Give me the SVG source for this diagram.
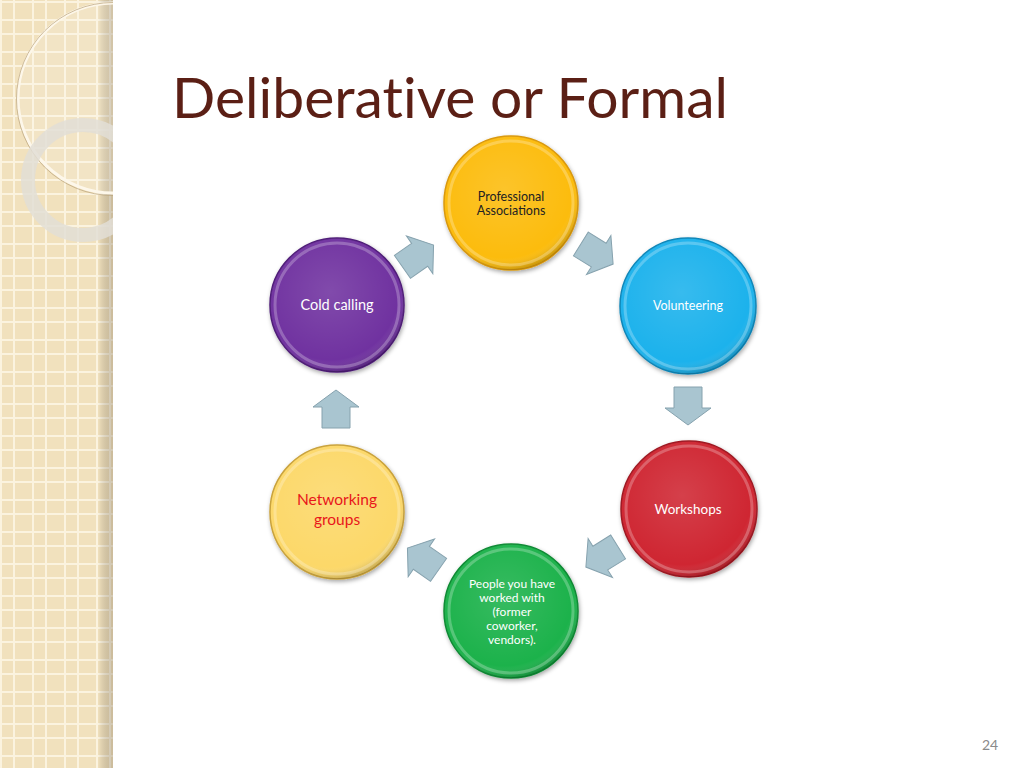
<svg xmlns="http://www.w3.org/2000/svg" width="1024" height="768" viewBox="0 0 1024 768">
<defs>
<style>
.lbl{font-family:Lato,"Open Sans","Liberation Sans",sans-serif;text-anchor:middle}
.arrow{fill:#a9c5d0;stroke:#86a2ae;stroke-width:1}
.rim{fill:none;stroke:#ffffff;stroke-opacity:0.25;stroke-width:3}
</style>
<pattern id="grid" width="32" height="32" patternUnits="userSpaceOnUse" x="0" y="1">
<rect width="32" height="32" fill="#f1e1bd"/>
<rect x="0" y="0" width="2" height="32" fill="#fbf3df"/>
<rect x="13" y="0" width="2" height="32" fill="#fbf3df"/>
<rect x="0" y="0" width="32" height="2" fill="#fbf3df"/>
<rect x="0" y="18" width="32" height="2" fill="#fbf3df"/>
</pattern>
<linearGradient id="edge" x1="0" x2="1" y1="0" y2="0">
<stop offset="0" stop-color="#000" stop-opacity="0"/>
<stop offset="1" stop-color="#8a7a60" stop-opacity="0.35"/>
</linearGradient>
<radialGradient id="shine" cx="0.45" cy="0.4" r="0.6">
<stop offset="0" stop-color="#fff" stop-opacity="0.12"/>
<stop offset="0.85" stop-color="#fff" stop-opacity="0"/>
<stop offset="1" stop-color="#000" stop-opacity="0.18"/>
</radialGradient>
<filter id="sh" x="-20%" y="-20%" width="140%" height="140%">
<feDropShadow dx="1" dy="2" stdDeviation="2" flood-color="#000" flood-opacity="0.35"/>
</filter>
<path id="arr" d="M-19,-14 L2,-14 L2,-23 L19,0 L2,23 L2,14 L-19,14 Z"/>
<clipPath id="strip"><rect x="0" y="0" width="113" height="768"/></clipPath>
</defs>
<rect width="1024" height="768" fill="#ffffff"/>
<g id="sidebar">
<rect x="0" y="0" width="113" height="768" fill="url(#grid)"/>
<rect x="98" y="0" width="15" height="768" fill="url(#edge)"/>
<g clip-path="url(#strip)">
<circle cx="113" cy="98" r="95" fill="#fff" fill-opacity="0.12" stroke="#fdf7ea" stroke-width="3"/>
<circle cx="113" cy="99" r="96.5" fill="none" stroke="#b9a27a" stroke-width="1" stroke-opacity="0.7"/>
<circle cx="83" cy="180" r="55" fill="none" stroke="#e2ded6" stroke-opacity="0.85" stroke-width="14"/>
</g>
</g>
<text x="172" y="118" font-family="'Gill Sans','Lato','Liberation Sans',sans-serif" font-size="57" fill="#5b1f15" style="font-variant-ligatures:none" textLength="556" lengthAdjust="spacingAndGlyphs">Deliberative or Formal</text>
<g id="connectors">
<use href="#arr" class="arrow" transform="translate(418,256) rotate(-35)"/>
<use href="#arr" class="arrow" transform="translate(597,254) rotate(32)"/>
<use href="#arr" class="arrow" transform="translate(688,406) rotate(90)"/>
<use href="#arr" class="arrow" transform="translate(602,557) rotate(148)"/>
<use href="#arr" class="arrow" transform="translate(423,559) rotate(-145)"/>
<use href="#arr" class="arrow" transform="translate(336,409) rotate(-90)"/>
</g>
<g id="node-professional">
<circle cx="511" cy="203" r="67" fill="#fcbc10" stroke="#d9980a" stroke-width="1.5" filter="url(#sh)"/>
<circle cx="511" cy="203" r="67" fill="url(#shine)"/>
<circle cx="511" cy="203" r="62" class="rim" stroke="#ffe070" stroke-opacity="0.5"/>
<text class="lbl" x="511" y="201" font-size="12.5" fill="#222">Professional</text>
<text class="lbl" x="511" y="215" font-size="12.5" fill="#222">Associations</text>
</g>
<g id="node-volunteering">
<circle cx="688" cy="306" r="68" fill="#1db2ec" stroke="#0f86b8" stroke-width="1.5" filter="url(#sh)"/>
<circle cx="688" cy="306" r="68" fill="url(#shine)"/>
<circle cx="688" cy="306" r="63" class="rim"/>
<text class="lbl" x="688" y="310" font-size="12.5" fill="#ffffff">Volunteering</text>
</g>
<g id="node-workshops">
<circle cx="689" cy="509" r="68" fill="#cf2530" stroke="#9e1820" stroke-width="1.5" filter="url(#sh)"/>
<circle cx="689" cy="509" r="68" fill="url(#shine)"/>
<circle cx="689" cy="509" r="63" class="rim"/>
<text class="lbl" x="688" y="514" font-size="13.5" fill="#ffffff">Workshops</text>
</g>
<g id="node-people">
<circle cx="511" cy="611" r="67" fill="#1db24b" stroke="#108a34" stroke-width="1.5" filter="url(#sh)"/>
<circle cx="511" cy="611" r="67" fill="url(#shine)"/>
<circle cx="511" cy="611" r="62" class="rim"/>
<text class="lbl" font-size="12" fill="#ffffff"><tspan x="512" y="588">People you have</tspan><tspan x="512" y="602">worked with</tspan><tspan x="512" y="616">(former</tspan><tspan x="512" y="630">coworker,</tspan><tspan x="512" y="644">vendors).</tspan></text>
</g>
<g id="node-networking">
<circle cx="337" cy="512" r="67" fill="#fcd869" stroke="#c9a23c" stroke-width="1.5" filter="url(#sh)"/>
<circle cx="337" cy="512" r="67" fill="url(#shine)"/>
<circle cx="337" cy="512" r="62" class="rim"/>
<text class="lbl" x="337" y="505" font-size="15.5" fill="#e8161b">Networking</text>
<text class="lbl" x="337" y="525" font-size="15.5" fill="#e8161b">groups</text>
</g>
<g id="node-coldcalling">
<circle cx="337" cy="305" r="67" fill="#7030a0" stroke="#4f1e78" stroke-width="1.5" filter="url(#sh)"/>
<circle cx="337" cy="305" r="67" fill="url(#shine)"/>
<circle cx="337" cy="305" r="62" class="rim"/>
<text class="lbl" x="337" y="310" font-size="14.5" fill="#ffffff">Cold calling</text>
</g>
<text x="990" y="750" font-family="'Gill Sans',Lato,'Liberation Sans',sans-serif" font-size="14" fill="#8a8a8a" text-anchor="middle">24</text>
</svg>
